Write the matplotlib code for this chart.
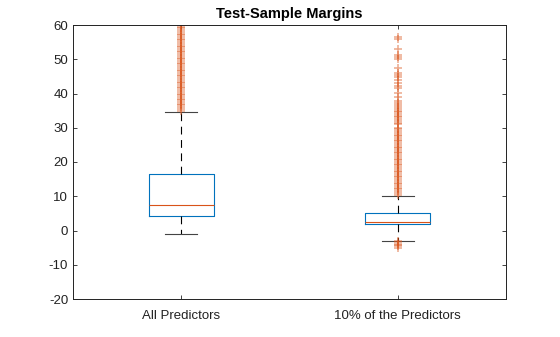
import matplotlib
matplotlib.use("Agg")
import matplotlib.pyplot as plt

plt.rcParams['font.family'] = ['Liberation Sans', 'DejaVu Sans']
plt.rcParams['axes.unicode_minus'] = False

categories = ["All Predictors", "10% of the Predictors"]
q1 = [4.2, 1.9]
median = [7.5, 2.5]
q3 = [16.4, 5.2]
whisker_low = [-0.9, -3.0]
whisker_high = [34.7, 10.2]

outliers_all = [35.0, 35.5, 36.0, 36.5, 37.0, 37.5, 38.0, 38.5, 39.0, 39.5,
                40.0, 40.5, 41.0, 41.5, 42.0, 42.5, 43.0, 43.5, 44.0, 44.5,
                45.0, 45.5, 46.0, 46.5, 47.0, 47.5, 48.0, 48.5, 49.0, 49.5,
                50.0, 50.5, 51.0, 51.5, 52.0, 52.5, 53.0, 53.5, 54.0, 54.5,
                55.0, 55.5, 56.0, 56.5, 57.0, 57.5, 58.0, 58.5, 59.0, 59.5, 60.0]
outliers_ten = [-5.2, -4.4, -4.1, -3.8, -3.5, -3.2,
                10.5, 11.0, 11.5, 12.0, 12.5, 13.0, 13.5, 14.0, 14.5, 15.0,
                15.5, 16.0, 16.5, 17.0, 17.5, 18.0, 18.5, 19.0, 19.5, 20.0,
                20.5, 21.0, 21.5, 22.0, 22.5, 23.0, 23.5, 24.0, 24.5, 25.0,
                25.5, 26.0, 26.5, 27.0, 27.5, 28.0, 28.5, 29.0, 29.5, 30.0,
                31.0, 31.5, 32.0, 32.5, 33.0, 33.5, 34.0, 34.5, 35.0, 35.5,
                36.0, 36.5, 37.2, 37.8, 39.0, 40.1, 41.6, 42.3, 43.0, 44.0,
                44.7, 45.4, 46.0, 47.4, 50.0, 50.6, 51.2, 53.0, 55.9, 56.5]
outliers = [outliers_all, outliers_ten]

yticks = [-20, -10, 0, 10, 20, 30, 40, 50, 60]

stats = []
for i, name in enumerate(categories):
    stats.append(dict(label=name, q1=q1[i], med=median[i], q3=q3[i],
                      whislo=whisker_low[i], whishi=whisker_high[i],
                      fliers=outliers[i]))

fig = plt.figure(figsize=(5.6, 3.37), dpi=100)
ax = fig.add_axes([73/560, 38/337, 433/560, 274/337])

blue = '#0072BD'
orange = '#D95319'
ax.bxp(stats, positions=[1, 2], widths=0.3,
       boxprops=dict(color=blue, linewidth=0.8),
       medianprops=dict(color=orange, linewidth=0.8),
       whiskerprops=dict(color='black', linewidth=0.8, linestyle=(0, (7, 5))),
       capprops=dict(color='#444444', linewidth=0.8),
       capwidths=0.15,
       flierprops=dict(marker='+', markeredgecolor=orange, markersize=6,
                       markeredgewidth=1.1, alpha=0.5, linestyle='none'))

ax.set_xlim(0.5, 2.5)
ax.set_ylim(-20, 60)
ax.set_yticks(yticks)
ax.set_xticks([1, 2])
ax.set_xticklabels(categories)
ax.tick_params(direction='in', length=3, width=0.6, labelsize=9.5,
               top=True, right=True, colors='#222222')
ax.tick_params(axis='x', pad=8)
for s in ax.spines.values():
    s.set_linewidth(0.7)
    s.set_color('#222222')
ax.set_title("Test-Sample Margins", fontsize=10.5, fontweight='bold', pad=5)

fig.savefig("out.png", dpi=100)
